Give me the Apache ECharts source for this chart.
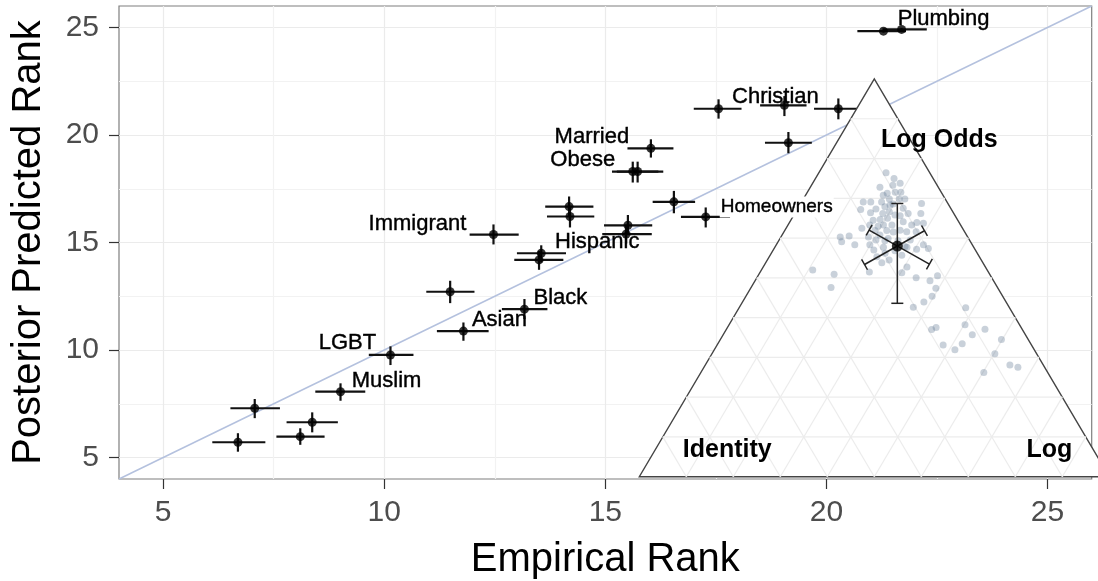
<!DOCTYPE html>
<html><head><meta charset="utf-8">
<script src="https://cdn.jsdelivr.net/npm/echarts@6/dist/echarts.min.js"></script>
<style>html,body{margin:0;padding:0;background:#fff}#c{width:1098px;height:581px}</style>
</head><body><div id="c"></div>
<script>
// ---------------- main chart data ----------------
const axisRange = [4, 26];
const axisTicks = [5, 10, 15, 20, 25];
const gridValues = [5, 7.5, 10, 12.5, 15, 17.5, 20, 22.5, 25];
const diagonal = [4, 26];

const pointLabels = ['', '', '', '', 'Muslim', 'LGBT', 'Asian', '', 'Black', 'Hispanic', '', 'Immigrant',
  '', '', '', '', '', 'Homeowners', 'Married', 'Obese', '', '', 'Plumbing', '', 'Christian', '', ''];
const empirical = [7.07, 6.69, 8.37, 8.10, 9.01, 10.14, 11.79, 11.49, 13.17, 13.55, 13.50, 12.47,
  14.18, 14.20, 15.51, 15.47, 16.55, 17.27, 16.03, 15.62, 15.73, 21.29, 21.70, 17.56, 19.05, 20.27, 19.14];
const predicted = [7.29, 5.71, 6.64, 5.97, 8.06, 9.77, 10.88, 12.71, 11.90, 14.50, 14.19, 15.37,
  16.67, 16.21, 15.80, 15.39, 16.89, 16.19, 19.38, 18.30, 18.30, 24.83, 24.91, 21.22, 21.38, 21.22, 19.64];
const empLow = [6.52, 6.11, 7.79, 7.56, 8.44, 9.65, 11.19, 10.95, 12.66, 13.00, 12.94, 11.93,
  13.64, 13.68, 14.97, 14.93, 16.07, 16.71, 15.50, 15.15, 15.26, 20.70, 21.27, 17.00, 18.50, 19.72, 18.61];
const empHigh = [7.64, 7.31, 8.95, 8.65, 9.57, 10.66, 12.36, 12.04, 13.69, 14.11, 14.05, 13.04,
  14.73, 14.75, 16.06, 16.05, 17.03, 17.82, 16.54, 16.20, 16.31, 21.80, 22.27, 18.08, 19.55, 20.80, 19.67];
const predLow = [6.83, 5.27, 6.17, 5.59, 7.64, 9.30, 10.43, 12.18, 11.44, 14.07, 13.73, 14.91,
  16.20, 15.70, 15.39, 14.95, 16.36, 15.70, 18.95, 17.79, 17.79, 24.76, 24.84, 20.76, 20.88, 20.73, 19.15];
const predHigh = [7.72, 6.13, 7.10, 6.36, 8.45, 10.17, 11.28, 13.22, 12.37, 14.87, 14.61, 15.84,
  17.14, 16.65, 16.28, 15.80, 17.40, 16.63, 19.80, 18.76, 18.76, 24.90, 24.98, 21.66, 21.81, 21.70, 20.14];

// ---------------- ternary inset data ----------------
const vertexNames = ['Identity', 'Log', 'Log Odds'];
const ternaryLevels = [0.1, 0.2, 0.3, 0.4, 0.5, 0.6, 0.7, 0.8, 0.9];
// [identity, log, logOdds]
const cloud = [
  [0.371,0.109,0.520],[0.331,0.160,0.509],[0.354,0.170,0.476],[0.253,0.232,0.515],[0.215,0.247,0.538],
  [0.196,0.259,0.545],[0.185,0.302,0.513],[0.167,0.306,0.527],[0.161,0.339,0.500],[0.135,0.372,0.493],
  [0.113,0.382,0.505],[0.132,0.394,0.474],[0.150,0.396,0.454],[0.175,0.386,0.439],[0.204,0.370,0.426],
  [0.093,0.482,0.425],[0.116,0.502,0.382],[0.181,0.444,0.375],[0.193,0.437,0.370],[0.079,0.550,0.371],
  [0.113,0.530,0.357],[0.057,0.598,0.345],[0.188,0.481,0.331],[0.146,0.520,0.334],[0.169,0.512,0.319],
  [0.089,0.602,0.309],[0.071,0.648,0.281],[0.057,0.668,0.275],[0.136,0.602,0.262],[0.093,0.143,0.764],
  [0.083,0.167,0.750],[0.124,0.148,0.728],[0.094,0.173,0.733],[0.076,0.186,0.738],[0.116,0.171,0.713],
  [0.098,0.187,0.715],[0.086,0.199,0.715],[0.119,0.183,0.698],[0.098,0.204,0.698],[0.178,0.131,0.691],
  [0.162,0.147,0.691],[0.139,0.170,0.691],[0.193,0.135,0.672],[0.176,0.160,0.664],[0.138,0.183,0.679],
  [0.135,0.199,0.666],[0.151,0.187,0.662],[0.101,0.224,0.675],[0.097,0.241,0.662],[0.056,0.257,0.687],
  [0.070,0.268,0.662],[0.164,0.189,0.647],[0.147,0.203,0.650],[0.180,0.175,0.645],[0.193,0.174,0.633],
  [0.164,0.203,0.633],[0.146,0.221,0.633],[0.118,0.241,0.641],[0.104,0.263,0.633],[0.090,0.271,0.639],
  [0.077,0.286,0.637],[0.189,0.192,0.619],[0.164,0.217,0.619],[0.135,0.245,0.620],[0.123,0.261,0.616],
  [0.103,0.281,0.616],[0.211,0.186,0.603],[0.199,0.206,0.595],[0.171,0.230,0.599],[0.184,0.208,0.608],
  [0.271,0.126,0.603],[0.251,0.144,0.605],[0.274,0.135,0.591],[0.250,0.167,0.583],[0.218,0.199,0.583],
  [0.216,0.214,0.570],[0.192,0.231,0.577],[0.142,0.281,0.577],[0.124,0.304,0.572],[0.104,0.313,0.583],
  [0.098,0.328,0.574],[0.218,0.229,0.553],[0.163,0.280,0.557],[0.125,0.192,0.683],[0.127,0.215,0.658],
  [0.152,0.233,0.615],[0.153,0.254,0.593],[0.181,0.226,0.593],[0.126,0.279,0.595],[0.196,0.242,0.562],
  [0.172,0.260,0.568],[0.160,0.167,0.673],[0.086,0.216,0.698],[0.177,0.193,0.630],[0.117,0.227,0.656],
  [0.117,0.197,0.686],[0.145,0.276,0.579],[0.214,0.161,0.625],[0.127,0.165,0.708]
];
const meanWeights = [0.161, 0.259, 0.580];
const weightLow = [0.084, 0.179, 0.436];
const weightHigh = [0.254, 0.350, 0.687];

// ---------------- styling / layout ----------------
const FONT = '"Liberation Sans", Arial, Helvetica, sans-serif';
const labelOffset = {
  Plumbing: [42, -10], Christian: [-9, -8], Married: [-59, -11], Obese: [-50, -12],
  Immigrant: [-76, -11], Hispanic: [56, -11], Homeowners: [71, -10], Black: [36, -11],
  Asian: [36, -11], LGBT: [-43, -12], Muslim: [46, -11]
};
const vertexOffset = [[88, -27], [-60, -27], [65, 61]];
// inset triangle box: full width 470px starting at x=639.3, but the canvas ends at 1098
const INSET_LEFT = 639.3, INSET_FULL_W = 470, CANVAS_W = 1098;
const insetVisibleW = CANVAS_W - INSET_LEFT;
const insetXMax = insetVisibleW / INSET_FULL_W;

function toXY(w) { return [w[1] + w[2] / 2, w[2]]; }

const mainPoints = empirical.map((x, i) => [x, predicted[i], empLow[i], empHigh[i], predLow[i], predHigh[i]]);
const labelData = [];
pointLabels.forEach((name, i) => {
  if (!name) return;
  const small = name === 'Homeowners';
  labelData.push({
    name: name,
    value: [empirical[i], predicted[i]],
    label: {
      offset: labelOffset[name],
      fontSize: small ? 19 : 22,
      textBorderColor: '#000', textBorderWidth: 0.4,
      backgroundColor: small ? '#fff' : 'transparent', padding: small ? [1, 1] : 0
    }
  });
});

const chart = echarts.init(document.getElementById('c'), null, { renderer: 'canvas' });
const option = {
  animation: false,
  backgroundColor: '#fff',
  textStyle: { fontFamily: FONT, color: '#000' },
  grid: [
    { left: 119, top: 6, width: 972.7, height: 473, show: true, borderColor: '#7f7f7f', borderWidth: 1.2,
      backgroundColor: 'transparent', containLabel: false, outerBoundsMode: 'none' },
    { left: INSET_LEFT, top: 79, width: insetVisibleW, height: 397.7, containLabel: false, outerBoundsMode: 'none' }
  ],
  xAxis: [
    {
      gridIndex: 0, type: 'value', min: axisRange[0], max: axisRange[1],
      name: 'Empirical Rank', nameLocation: 'middle', nameGap: 61,
      nameTextStyle: { fontSize: 40, color: '#000', fontFamily: FONT },
      axisLine: { show: false },
      axisTick: { show: true, length: 10, customValues: axisTicks, lineStyle: { color: '#333', width: 1.2 } },
      axisLabel: { customValues: axisTicks, fontSize: 30, color: '#4d4d4d', margin: 19, fontFamily: FONT },
      splitLine: { show: false }
    },
    {
      gridIndex: 0, type: 'value', min: axisRange[0], max: axisRange[1],
      axisLine: { show: false }, axisLabel: { show: false },
      axisTick: { show: false, customValues: gridValues },
      splitLine: { show: true, lineStyle: { color: ['#ebebeb', '#f2f2f2'], width: 1.2 } }
    },
    { gridIndex: 1, type: 'value', min: 0, max: insetXMax, show: false }
  ],
  yAxis: [
    {
      gridIndex: 0, type: 'value', min: axisRange[0], max: axisRange[1],
      name: 'Posterior Predicted Rank', nameLocation: 'middle', nameGap: 70,
      nameTextStyle: { fontSize: 40, color: '#000', fontFamily: FONT },
      axisLine: { show: false },
      axisTick: { show: true, length: 10, customValues: axisTicks, lineStyle: { color: '#333', width: 1.2 } },
      axisLabel: { customValues: axisTicks, fontSize: 30, color: '#4d4d4d', margin: 20, fontFamily: FONT },
      splitLine: { show: false }
    },
    {
      gridIndex: 0, type: 'value', min: axisRange[0], max: axisRange[1],
      axisLine: { show: false }, axisLabel: { show: false },
      axisTick: { show: false, customValues: gridValues },
      splitLine: { show: true, lineStyle: { color: ['#ebebeb', '#f2f2f2'], width: 1.2 } }
    },
    { gridIndex: 1, type: 'value', min: 0, max: 1, show: false }
  ],
  series: [
    {
      type: 'line', xAxisIndex: 0, yAxisIndex: 0, z: 2,
      data: [[diagonal[0], diagonal[0]], [diagonal[1], diagonal[1]]],
      symbol: 'none', lineStyle: { color: '#b4c1de', width: 1.5 }, silent: true
    },
    {
      type: 'custom', xAxisIndex: 0, yAxisIndex: 0, z: 3,
      data: mainPoints, encode: { x: 0, y: 1 },
      renderItem(params, api) {
        const x = api.value(0), y = api.value(1);
        const a = api.coord([api.value(2), y]), b = api.coord([api.value(3), y]);
        const c = api.coord([x, api.value(4)]), d = api.coord([x, api.value(5)]);
        const st = { stroke: '#111', lineWidth: 2.2 };
        return { type: 'group', children: [
          { type: 'line', shape: { x1: a[0], y1: a[1], x2: b[0], y2: b[1] }, style: st },
          { type: 'line', shape: { x1: c[0], y1: c[1], x2: d[0], y2: d[1] }, style: st }
        ] };
      }
    },
    {
      type: 'scatter', xAxisIndex: 0, yAxisIndex: 0, z: 4,
      data: mainPoints.map(p => [p[0], p[1]]), symbolSize: 9,
      itemStyle: { color: '#000' }
    },
    // ---- inset: triangle
    {
      type: 'custom', xAxisIndex: 2, yAxisIndex: 2, z: 10, clip: false,
      data: [[0.5, 0.5]], encode: { x: 0, y: 1 },
      renderItem(params, api) {
        const pts = [[1, 0, 0], [0, 1, 0], [0, 0, 1]].map(w => api.coord(toXY(w)));
        return { type: 'polygon', shape: { points: pts }, style: { fill: '#fff', stroke: '#444', lineWidth: 1.4 } };
      }
    },
    {
      type: 'custom', xAxisIndex: 2, yAxisIndex: 2, z: 11, clip: false,
      data: ternaryLevels.map(v => [v, v]), encode: { x: 0, y: 1 },
      renderItem(params, api) {
        const c = api.value(0);
        const segs = [
          [[1 - c, 0, c], [0, 1 - c, c]],
          [[c, 1 - c, 0], [c, 0, 1 - c]],
          [[1 - c, c, 0], [0, c, 1 - c]]
        ];
        return { type: 'group', children: segs.map(s => {
          const p = api.coord(toXY(s[0])), q = api.coord(toXY(s[1]));
          return { type: 'line', shape: { x1: p[0], y1: p[1], x2: q[0], y2: q[1] }, style: { stroke: '#ececec', lineWidth: 1.2 } };
        }) };
      }
    },
    {
      type: 'scatter', xAxisIndex: 2, yAxisIndex: 2, z: 12, clip: false,
      data: cloud.map(toXY), symbolSize: 7,
      itemStyle: { color: 'rgba(95,120,145,0.42)' }
    },
    {
      type: 'custom', xAxisIndex: 2, yAxisIndex: 2, z: 13, clip: false,
      data: [0, 1, 2].map(k => [k, meanWeights[k]]), encode: { x: 0, y: 1 },
      renderItem(params, api) {
        const k = params.dataIndex;
        const at = v => {
          const w = meanWeights.map((m, j) => j === k ? v : m - (v - meanWeights[k]) / 2);
          return api.coord(toXY(w));
        };
        const p = at(weightLow[k]), q = at(weightHigh[k]);
        const dx = q[0] - p[0], dy = q[1] - p[1], len = Math.hypot(dx, dy);
        const nx = -dy / len * 6, ny = dx / len * 6;
        const st = { stroke: '#222', lineWidth: 1.5 };
        return { type: 'group', children: [
          { type: 'line', shape: { x1: p[0], y1: p[1], x2: q[0], y2: q[1] }, style: st },
          { type: 'line', shape: { x1: p[0] - nx, y1: p[1] - ny, x2: p[0] + nx, y2: p[1] + ny }, style: st },
          { type: 'line', shape: { x1: q[0] - nx, y1: q[1] - ny, x2: q[0] + nx, y2: q[1] + ny }, style: st }
        ] };
      }
    },
    {
      type: 'scatter', xAxisIndex: 2, yAxisIndex: 2, z: 14,
      data: [toXY(meanWeights)], symbolSize: 11, itemStyle: { color: '#000' }
    },
    {
      type: 'scatter', xAxisIndex: 2, yAxisIndex: 2, z: 14, clip: false,
      symbolSize: 1, itemStyle: { color: 'rgba(0,0,0,0)' },
      label: { show: true, position: 'inside', formatter: '{b}', color: '#000', opacity: 1,
        fontSize: 25, fontWeight: 'bold', fontFamily: FONT },
      data: vertexNames.map((name, k) => ({
        name: name,
        value: toXY([0, 1, 2].map(j => j === k ? 1 : 0)),
        label: { offset: vertexOffset[k] }
      }))
    },
    // ---- point labels (top)
    {
      type: 'scatter', xAxisIndex: 0, yAxisIndex: 0, z: 20, clip: false,
      symbolSize: 1, itemStyle: { color: 'rgba(0,0,0,0)' },
      label: { show: true, position: 'inside', formatter: '{b}', color: '#000', opacity: 1,
        fontFamily: FONT },
      data: labelData
    }
  ]
};
chart.setOption(option);
</script>
</body></html>
